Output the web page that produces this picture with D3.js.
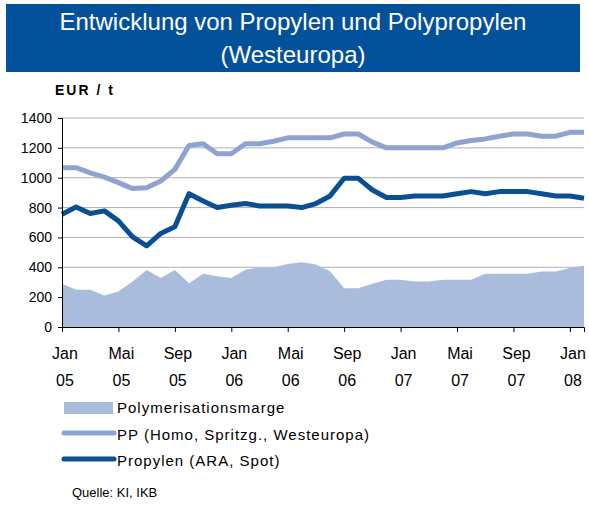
<!DOCTYPE html>
<html><head><meta charset="utf-8">
<script src="https://cdn.jsdelivr.net/npm/d3@7"></script>
<style>body{margin:0;background:#fff}svg{display:block;font-family:"Liberation Sans",Arial,sans-serif}</style>
</head><body><svg id="c" width="589" height="508"></svg>
<script>
const months = d3.range(38); // Jan 2005 .. Feb 2008, monthly index
const propylen = [755,804,760,778,711,604,544,627,671,893,844,800,815,827,811,811,811,800,827,878,996,996,918,867,867,878,878,878,893,907,893,907,907,907,893,878,878,862];
const pp = [1067,1067,1033,1004,967,927,933,978,1056,1216,1227,1160,1160,1227,1227,1244,1267,1267,1267,1267,1293,1293,1238,1200,1200,1200,1200,1200,1233,1249,1260,1278,1293,1293,1278,1278,1304,1304];
const marge = [289,249,249,211,238,304,382,329,382,293,356,340,329,384,400,400,422,433,418,373,260,260,289,316,316,304,304,316,316,316,356,356,356,356,371,371,396,411];
const yTicks = [0,200,400,600,800,1000,1200,1400];
const xTickIdx = [0,4,8,12,16,20,24,28,32,36];
const xTickLabels = [["Jan","05"],["Mai","05"],["Sep","05"],["Jan","06"],["Mai","06"],["Sep","06"],["Jan","07"],["Mai","07"],["Sep","07"],["Jan","08"]];
const seriesNames = ["Polymerisationsmarge","PP (Homo, Spritzg., Westeuropa)","Propylen (ARA, Spot)"];
const cMarge="#a9bcdc", cPP="#8ea3cf", cProp="#0a4f93";

const svg=d3.select("#c");
svg.append("rect").attr("x",6).attr("y",4).attr("width",574).attr("height",68).attr("fill","#03519a");
svg.append("text").attr("x",293).attr("y",30).attr("text-anchor","middle").attr("fill","#fff").attr("font-size",24).text("Entwicklung von Propylen und Polypropylen");
svg.append("text").attr("x",293).attr("y",63).attr("text-anchor","middle").attr("fill","#fff").attr("font-size",24).text("(Westeuropa)");
svg.append("text").attr("x",55).attr("y",95).attr("font-size",14).attr("font-weight","bold").attr("letter-spacing",2).text("EUR / t");

const x=d3.scaleLinear().domain([0,37]).range([62,584]);
const y=d3.scaleLinear().domain([0,1400]).range([327,118]);

svg.append("g").selectAll("line").data(yTicks.slice(1)).join("line")
 .attr("x1",62).attr("x2",584).attr("y1",d=>y(d)).attr("y2",d=>y(d)).attr("stroke","#b0b0b0").attr("stroke-width",1);

svg.append("path").datum(months).attr("fill",cMarge)
 .attr("d",d3.area().x(i=>x(i)).y0(y(0)).y1(i=>y(marge[i])));
const line=arr=>d3.line().x(i=>x(i)).y(i=>y(arr[i]));
svg.append("path").datum(months).attr("fill","none").attr("stroke",cPP).attr("stroke-width",5).attr("stroke-linejoin","round").attr("d",line(pp));
svg.append("path").datum(months).attr("fill","none").attr("stroke",cProp).attr("stroke-width",5).attr("stroke-linejoin","round").attr("d",line(propylen));

const ya=svg.append("g").attr("transform","translate(62,0)").call(d3.axisLeft(y).tickValues(yTicks).tickSize(4).tickFormat(d3.format("d")));
const xa=svg.append("g").attr("transform",`translate(0,${y(0)})`).call(d3.axisBottom(x).tickValues(xTickIdx).tickSize(5).tickFormat(""));
[ya,xa].forEach(a=>{a.select(".domain").attr("stroke","#000");a.selectAll(".tick line").attr("stroke","#000");});
ya.selectAll("text").attr("font-size",14).attr("fill","#000").attr("font-family","Liberation Sans, Arial").attr("x",-10);
xTickIdx.forEach((d,k)=>{
 svg.append("text").attr("x",x(d)+3).attr("y",359).attr("text-anchor","middle").attr("font-size",16).text(xTickLabels[k][0]);
 svg.append("text").attr("x",x(d)+3).attr("y",386).attr("text-anchor","middle").attr("font-size",16).text(xTickLabels[k][1]);
});

const lg=svg.append("g");
lg.append("rect").attr("x",64).attr("y",402).attr("width",49).attr("height",12).attr("fill",cMarge);
lg.append("line").attr("x1",64).attr("x2",114).attr("y1",433).attr("y2",433).attr("stroke",cPP).attr("stroke-width",5).attr("stroke-linecap","round");
lg.append("line").attr("x1",64).attr("x2",114).attr("y1",459).attr("y2",459).attr("stroke",cProp).attr("stroke-width",5).attr("stroke-linecap","round");
seriesNames.forEach((s,k)=>lg.append("text").attr("x",117).attr("y",413+k*26.5).attr("font-size",15).attr("letter-spacing",1).text(s));
svg.append("text").attr("x",72).attr("y",497).attr("font-size",13).text("Quelle: KI, IKB");
</script></body></html>
